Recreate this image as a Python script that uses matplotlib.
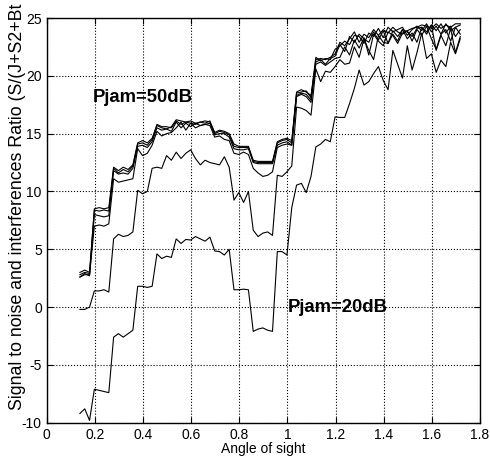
import numpy as np
import matplotlib
matplotlib.use("Agg")
import matplotlib.pyplot as plt

plt.rcParams['font.family'] = ['Liberation Sans', 'DejaVu Sans']
plt.rcParams['axes.unicode_minus'] = False

# angle grid (80 samples)
angle = np.arange(80) * 0.02 + 0.138

# Pjam = 50dB (top cluster)
snr_a1 = [3.0, 3.2, 3.0, 8.5, 8.6, 8.5, 8.6, 12.1, 11.8, 12.1,
          11.9, 12.3, 14.2, 14.4, 14.2, 14.6, 15.7, 15.5, 15.4, 15.6,
          16.2, 16.1, 16.0, 16.1, 15.9, 16.0, 16.1, 16.0, 15.1, 15.3,
          15.2, 15.0, 14.1, 13.9, 13.9, 13.9, 12.7, 12.6, 12.6, 12.6,
          12.6, 14.3, 14.5, 14.6, 14.4, 18.6, 18.8, 18.6, 18.3, 21.4,
          21.5, 21.4, 21.6, 21.9, 22.9, 22.6, 23.2, 23.8, 22.9, 23.6,
          23.3, 24.0, 23.5, 24.0, 23.7, 24.2, 23.8, 23.6, 23.9, 24.1,
          24.2, 24.4, 24.3, 24.1, 24.5, 24.1, 24.4, 24.2, 24.5, 24.5]
snr_a2 = [2.8, 3.0, 2.9, 8.4, 8.3, 8.4, 8.3, 12.0, 11.6, 11.9,
          11.7, 12.2, 14.1, 14.2, 14.0, 14.5, 15.8, 15.6, 15.6, 15.5,
          16.1, 15.8, 16.0, 15.9, 15.8, 16.0, 15.9, 16.1, 15.0, 15.2,
          15.1, 14.9, 13.9, 13.8, 13.8, 13.8, 12.6, 12.5, 12.5, 12.5,
          12.5, 14.2, 14.4, 14.5, 14.2, 18.5, 18.6, 18.7, 18.1, 21.6,
          21.3, 21.5, 21.4, 22.3, 22.6, 23.0, 22.7, 23.5, 23.4, 22.8,
          23.7, 23.4, 24.1, 23.3, 24.2, 23.8, 24.0, 24.2, 23.5, 24.0,
          24.3, 23.9, 24.5, 23.8, 24.3, 23.6, 24.5, 23.9, 24.2, 24.4]
snr_a3 = [2.6, 2.9, 2.7, 8.0, 7.9, 7.8, 7.9, 11.8, 11.5, 11.6,
          11.5, 12.0, 13.9, 14.0, 13.8, 14.3, 15.5, 15.3, 15.4, 15.2,
          16.0, 15.5, 15.9, 15.6, 15.9, 15.7, 15.8, 15.9, 14.9, 15.0,
          15.0, 14.7, 13.7, 13.6, 13.6, 13.7, 12.5, 12.4, 12.4, 12.4,
          12.4, 14.0, 14.2, 14.3, 14.0, 18.3, 18.5, 18.4, 17.9, 21.2,
          21.4, 21.0, 21.5, 21.7, 22.7, 22.1, 23.4, 22.9, 23.6, 23.2,
          22.9, 23.8, 23.1, 23.9, 22.8, 23.9, 23.4, 24.0, 23.8, 23.4,
          24.1, 24.2, 23.6, 24.4, 23.9, 24.5, 23.7, 24.3, 23.4, 24.0]
snr_d = [2.6, 2.8, 2.8, 7.0, 7.1, 7.0, 7.2, 11.1, 10.8, 10.9,
         11.0, 11.1, 13.7, 13.1, 13.3, 14.0, 15.2, 14.8, 15.0, 15.1,
         15.5, 16.0, 15.3, 15.9, 15.5, 15.7, 15.8, 15.7, 14.7, 14.8,
         14.5, 14.4, 13.3, 13.2, 13.4, 13.2, 12.0, 11.6, 11.3, 11.4,
         11.7, 13.8, 14.0, 14.1, 14.0, 18.2, 18.4, 18.2, 17.7, 21.0,
         21.2, 20.9, 21.2, 21.5, 21.6, 22.5, 21.8, 23.1, 22.4, 23.3,
         21.8, 23.6, 23.0, 22.6, 23.8, 23.5, 22.8, 23.7, 23.9, 23.0,
         24.0, 23.5, 24.3, 23.2, 22.3, 23.6, 24.0, 23.0, 24.2, 23.6]
snr_b = [-0.2, -0.2, 0.0, 1.4, 1.4, 1.5, 1.3, 5.9, 6.3, 6.1,
         6.2, 6.5, 10.1, 9.8, 10.0, 12.0, 12.1, 12.0, 13.1, 12.7,
         13.4, 12.85, 13.3, 13.6, 12.85, 12.3, 12.7, 12.5, 12.4, 12.3,
         13.0, 12.1, 9.25, 9.9, 9.05, 10.0, 6.65, 6.1, 6.4, 6.5,
         6.2, 11.4, 11.3, 11.7, 12.2, 17.3, 17.2, 17.0, 16.6, 20.6,
         19.5, 20.4, 20.3, 20.8, 21.4, 21.0, 21.1, 22.5, 21.6, 23.2,
         22.2, 21.4, 23.5, 22.9, 22.8, 23.6, 23.0, 24.0, 23.2, 23.7,
         22.9, 24.2, 23.8, 24.4, 22.2, 23.5, 22.6, 24.1, 22.0, 23.4]
# Pjam = 20dB (bottom curve)
snr_c = [-9.2, -8.8, -9.8, -7.1, -7.2, -7.3, -7.4, -2.6, -2.3, -2.6,
         -2.3, -2.0, 1.8, 1.8, 1.7, 1.8, 4.6, 4.2, 4.4, 4.3,
         5.9, 5.5, 5.85, 5.8, 6.1, 5.9, 5.7, 6.05, 4.85, 4.8,
         4.5, 5.0, 1.5, 1.5, 1.55, 1.5, -2.1, -1.9, -1.8, -2.0,
         -2.1, 4.8, 4.8, 4.5, 8.6, 10.55, 10.7, 9.9, 11.3, 13.85,
         14.1, 14.5, 14.3, 16.45, 16.4, 16.4, 17.6, 18.9, 20.5, 19.2,
         19.5, 20.2, 20.8, 19.6, 18.8, 22.2, 21.0, 19.8, 22.6, 20.5,
         22.0, 23.7, 21.5, 21.9, 20.3, 21.35, 20.8, 22.9, 21.9, 23.2]

curves = [snr_a1, snr_a2, snr_a3, snr_d, snr_b, snr_c]

fig = plt.figure(figsize=(4.9, 4.57), dpi=100)
ax = fig.add_axes([0.0953, 0.075, 0.8843, 0.8856])

for s in curves:
    ax.plot(angle, s, color='black', linewidth=0.8)

ax.set_xlim(0, 1.8)
ax.set_ylim(-10, 25)
ax.set_xticks(np.arange(0, 1.81, 0.2))
ax.set_xticklabels(['0', '0.2', '0.4', '0.6', '0.8', '1', '1.2', '1.4', '1.6', '1.8'])
ax.set_yticks(np.arange(-10, 26, 5))
ax.tick_params(direction='in', top=True, right=True, labelsize=10, length=4, width=0.8)
ax.grid(True, linestyle=':', color='black', linewidth=0.8)
for sp in ax.spines.values():
    sp.set_linewidth(1.0)

ax.set_xlabel('Angle of sight', fontsize=10, labelpad=0)
fig.text(0.035, 0.103, 'Signal to noise and interferences Ratio (S/(J+S2+Bt',
         rotation=90, ha='center', va='bottom', fontsize=12.8)

ax.text(0.193, 18.15, 'Pjam=50dB', fontsize=13.3, fontweight='bold', va='center', ha='left')
ax.text(1.0, 0.0, 'Pjam=20dB', fontsize=13.3, fontweight='bold', va='center', ha='left')

fig.savefig('out.png', dpi=100)
